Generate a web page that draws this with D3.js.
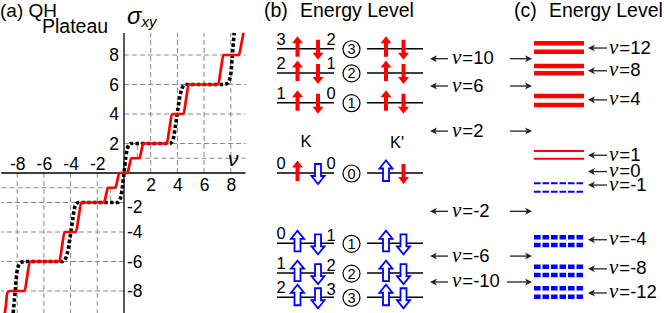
<!DOCTYPE html>
<html><head><meta charset="utf-8">
<script src="https://cdn.jsdelivr.net/npm/d3@7"></script>
<style>
body{margin:0;background:#fff}
svg{display:block}
text{font-family:"Liberation Sans",Arial,sans-serif;fill:#000}
</style>
</head><body>
<svg id="c" width="664" height="313"></svg>
<script>
// ---------------- Panel (a) data : QH plateau ----------------
const xTicksNeg = [-8, -6, -4, -2];
const xTicksPos = [2, 4, 6, 8];
const yTicksPos = [2, 4, 6, 8];
const yTicksNeg = [-2, -4, -6, -8];
const gridPos = [2, 4, 6, 8];
const gridNeg = [-2, -4, -6, -8];
// red curve (nu, sigma_xy)
const redCurve = [
  [-8.95,-9.6],[-8.85,-9.0],[-8.75,-8.15],[-8.6,-8],
  [-7.45,-8],[-7.25,-7],[-7.05,-6],
  [-4.85,-6],[-4.65,-5],[-4.45,-4],
  [-3.6,-4],[-3.4,-3],[-3.2,-2],
  [-1.5,-2],[-1.35,-1.5],[-1.2,-1],
  [-0.65,-1],[-0.5,-0.5],[-0.35,0],
  [0.25,0],[0.4,0.5],[0.55,1],
  [1.15,1],[1.3,1.5],[1.45,2],
  [3.2,2],[3.4,3],[3.6,4],
  [4.45,4],[4.65,5],[4.85,6],
  [7.05,6],[7.25,7],[7.45,8],
  [8.6,8],[8.78,8.7],[8.95,9.5]
];
// black dotted curve (nu, sigma_xy)
const blackCurve = [
  [-8.3,-9.5],[-8.15,-8],[-8.0,-6.6],[-7.75,-6.08],[-7.4,-6],
  [-4.6,-6],[-4.35,-5.75],[-4.15,-5],[-3.98,-4],[-3.82,-3],[-3.65,-2.2],[-3.4,-2],
  [-0.5,-2],[-0.3,-1.8],[-0.14,-1.1],[0,0],[0.14,1.1],[0.3,1.8],[0.5,2],
  [3.4,2],[3.65,2.2],[3.82,3],[3.98,4],[4.15,5],[4.35,5.75],[4.6,6],
  [7.4,6],[7.75,6.08],[7.98,6.6],[8.12,8],[8.25,9.5]
];

// ---------------- Panel (b) data : Landau levels ----------------
const levelIndex   = ["3","2","1","0","1","2","3"];
const levelEnergy  = [1.75, 1.41, 0.99, 0, -0.99, -1.41, -1.75];
const levelLeftNum = ["3","2","1","0","0","1","2"];
const levelRightNum= ["2","1","0","0","1","2","3"];
const kUp   = ["red","red","red","red","blue","blue","blue"];
const kDown = ["red","red","red","blue","blue","blue","blue"];
const kpUp  = ["red","red","red","blue","blue","blue","blue"];
const kpDown= ["red","red","red","red","blue","blue","blue"];
const gapNu     = ["10","6","2","-2","-6","-10"];
const gapEnergy = [1.61, 1.225, 0.59, -0.54, -1.17, -1.535];

// ---------------- Panel (c) data ----------------
const cNu          = ["12","8","4","1","0","-1","-4","-8","-12"];
const cLabelEnergy = [1.76, 1.44, 1.03, 0.25, 0.02, -0.17, -0.94, -1.35, -1.69];
const cBarNu       = [12, 12, 8, 8, 4, 4, 1, 1, -1, -1, -4, -4, -8, -8, -12, -12];
const cBarEnergy   = [1.826, 1.708, 1.507, 1.404, 1.085, 0.958, 0.31, 0.20,
                      -0.145, -0.263, -0.906, -1.014, -1.32, -1.437, -1.624, -1.742];

// ======================================================
const RED = "#ff0000", BLUE = "#0000ff";
const svg = d3.select("#c");
const SANS = '"Liberation Sans",Arial,sans-serif';
const SERIF = '"Liberation Serif","Times New Roman",serif';

// ---------- Panel (a) ----------
const xA = d3.scaleLinear().domain([0, 8]).range([124, 230.8]);
const yA = d3.scaleLinear().domain([0, 8]).range([173, 55]);
const gA = svg.append("g");

const grid = gA.append("g").attr("stroke", "#8a8a8a").attr("stroke-width", 1)
  .attr("stroke-dasharray", "5,3").attr("fill", "none");
gridPos.forEach(v => {
  grid.append("line").attr("x1", xA(v)).attr("x2", xA(v)).attr("y1", yA(0)).attr("y2", yA(9.5));
  grid.append("line").attr("x1", xA(0)).attr("x2", xA(9.1)).attr("y1", yA(v)).attr("y2", yA(v));
});
gridNeg.forEach(v => {
  grid.append("line").attr("x1", xA(v)).attr("x2", xA(v)).attr("y1", yA(0)).attr("y2", yA(-9.8));
  grid.append("line").attr("x1", xA(0)).attr("x2", xA(-9.2)).attr("y1", yA(v)).attr("y2", yA(v));
});
// short guides at +-1
grid.append("line").attr("x1", xA(1)).attr("x2", xA(9.1)).attr("y1", yA(1)).attr("y2", yA(1));
grid.append("line").attr("x1", xA(1)).attr("x2", xA(1)).attr("y1", yA(1)).attr("y2", yA(2));
grid.append("line").attr("x1", xA(-1)).attr("x2", xA(-9.2)).attr("y1", yA(-1)).attr("y2", yA(-1));
grid.append("line").attr("x1", xA(-1)).attr("x2", xA(-1)).attr("y1", yA(-1)).attr("y2", yA(-2));

// axis lines
gA.append("line").attr("x1", xA(-9.2)).attr("x2", xA(9.1)).attr("y1", yA(0)).attr("y2", yA(0))
  .attr("stroke", "#000").attr("stroke-width", 1.3);
gA.append("line").attr("x1", xA(0)).attr("x2", xA(0)).attr("y1", yA(9.5)).attr("y2", yA(-9.8))
  .attr("stroke", "#000").attr("stroke-width", 1.3);

function styleAxis(g) {
  g.select(".domain").remove();
  g.attr("font-size", 17.5).attr("font-family", SANS);
  g.selectAll("text").attr("fill", "#000");
}
gA.append("g").attr("transform", `translate(0,${yA(0)})`)
  .call(d3.axisTop(xA).tickValues(xTicksNeg).tickSize(0).tickPadding(3).tickFormat(d => String(d)))
  .call(styleAxis);
gA.append("g").attr("transform", `translate(0,${yA(0)})`)
  .call(d3.axisBottom(xA).tickValues(xTicksPos).tickSize(0).tickPadding(6).tickFormat(d => String(d)))
  .call(styleAxis);
gA.append("g").attr("transform", `translate(${xA(0)},0)`)
  .call(d3.axisLeft(yA).tickValues(yTicksPos).tickSize(0).tickPadding(5).tickFormat(d => String(d)))
  .call(styleAxis);
gA.append("g").attr("transform", `translate(${xA(0)},0)`)
  .call(d3.axisRight(yA).tickValues(yTicksNeg).tickSize(0).tickPadding(3).tickFormat(d => String(d)))
  .call(styleAxis)
  .call(g => g.selectAll(".tick").filter(d => d === -2).select("text").attr("y", 4));

const line = d3.line().x(d => xA(d[0])).y(d => yA(d[1])).curve(d3.curveMonotoneX);
gA.append("path").attr("d", line(blackCurve)).attr("fill", "none").attr("stroke", "#000")
  .attr("stroke-width", 3.6).attr("stroke-dasharray", "3.4,2.3");
gA.append("path").attr("d", line(redCurve)).attr("fill", "none").attr("stroke", RED)
  .attr("stroke-width", 2.7);

// labels panel a
svg.append("text").attr("x", 0).attr("y", 17).attr("font-size", 19).text("(a) QH");
svg.append("text").attr("x", 42).attr("y", 33).attr("font-size", 19.5).text("Plateau");
const sig = svg.append("text").attr("x", 127).attr("y", 24).attr("font-family", SERIF).attr("font-style", "italic");
sig.append("tspan").attr("font-size", 24).text("σ");
sig.append("tspan").attr("font-size", 15).attr("dy", 3).text("xy");
svg.append("text").attr("x", 228).attr("y", 166).attr("font-family", SERIF).attr("font-style", "italic")
  .attr("font-size", 21).text("ν");

// ---------- Panel (b) ----------
const eY = d3.scaleLinear().domain([0, 1]).range([173, 102]);
svg.append("text").attr("x", 264).attr("y", 17).attr("font-size", 19.5).text("(b)");
svg.append("text").attr("x", 300).attr("y", 17).attr("font-size", 19.5).text("Energy Level");
svg.append("text").attr("x", 514).attr("y", 17).attr("font-size", 19.5).text("(c)");
svg.append("text").attr("x", 549).attr("y", 17).attr("font-size", 19.5).text("Energy Level");

svg.append("text").attr("x", 306).attr("y", 147).attr("font-size", 16.5).attr("text-anchor", "middle").text("K");
svg.append("text").attr("x", 397).attr("y", 148).attr("font-size", 16.5).attr("text-anchor", "middle").text("K'");

function spinArrow(g, x, yTail, yTip, color) {
  const hollow = color === "blue";
  const s = hollow ? 3 : 2, h = hollow ? 6.5 : 5.5, hl = hollow ? 8 : 7;
  const dir = Math.sign(yTip - yTail);
  const yb = yTip - dir * hl;
  const p = d3.path();
  p.moveTo(x - s, yTail); p.lineTo(x - s, yb); p.lineTo(x - h, yb); p.lineTo(x, yTip);
  p.lineTo(x + h, yb); p.lineTo(x + s, yb); p.lineTo(x + s, yTail); p.closePath();
  g.append("path").attr("d", p.toString())
    .attr("fill", hollow ? "#fff" : RED)
    .attr("stroke", hollow ? BLUE : "none").attr("stroke-width", hollow ? 1.8 : 0)
    .attr("stroke-linejoin", "miter");
}

const gB = svg.append("g");
levelEnergy.forEach((e, i) => {
  const L = eY(e);
  gB.append("line").attr("x1", 277).attr("x2", 334).attr("y1", L).attr("y2", L).attr("stroke", "#000").attr("stroke-width", 1.5);
  gB.append("line").attr("x1", 367).attr("x2", 423).attr("y1", L).attr("y2", L).attr("stroke", "#000").attr("stroke-width", 1.5);
});
levelEnergy.forEach((e, i) => {
  const L = eY(e);
  spinArrow(gB, 297.5, L + 8, L - 12.5, kUp[i]);
  spinArrow(gB, 318, L - 9, L + 11, kDown[i]);
  spinArrow(gB, 386, L + 8, L - 12.5, kpUp[i]);
  spinArrow(gB, 403.5, L - 9, L + 11, kpDown[i]);
  gB.append("text").attr("x", 281).attr("y", L - 4).attr("font-size", 16.5).attr("text-anchor", "middle").text(levelLeftNum[i]);
  gB.append("text").attr("x", 331).attr("y", e < 0 ? L - 2 : L - 4).attr("font-size", 16.5).attr("text-anchor", "middle").text(levelRightNum[i]);
  gB.append("circle").attr("cx", 351.5).attr("cy", L + 0.5).attr("r", 8.5).attr("fill", "none").attr("stroke", "#000").attr("stroke-width", 1.2);
  gB.append("text").attr("x", 351.5).attr("y", L + 5.6).attr("font-size", 14.5).attr("text-anchor", "middle").text(levelIndex[i]);
});

function thinArrow(g, x1, x2, y) {
  const d = Math.sign(x2 - x1);
  g.append("line").attr("x1", x1).attr("x2", x2 - d * 4).attr("y1", y).attr("y2", y)
    .attr("stroke", "#222").attr("stroke-width", 1.3);
  g.append("path").attr("d", `M${x2},${y}L${x2 - d * 7},${y - 3.5}L${x2 - d * 5},${y}L${x2 - d * 7},${y + 3.5}Z`)
    .attr("fill", "#222");
}
function nuLabel(g, x, y, val) {
  const t = g.append("text").attr("x", x).attr("y", y);
  t.append("tspan").attr("font-family", SERIF).attr("font-style", "italic").attr("font-size", 21).text("ν");
  t.append("tspan").attr("font-size", 18.5).attr("dx", 1).text("=" + val);
}
gapEnergy.forEach((e, i) => {
  const y = eY(e);
  thinArrow(gB, 448, 430, y);
  nuLabel(gB, 452, y + 5.5, gapNu[i]);
  thinArrow(gB, gapNu[i] === "-10" ? 507 : 510, 532, y);
});

// ---------- Panel (c) ----------
const gC = svg.append("g");
cBarEnergy.forEach((e, i) => {
  const nu = cBarNu[i];
  const thick = Math.abs(nu) >= 4;
  gC.append("line").attr("x1", 534).attr("x2", 584).attr("y1", eY(e)).attr("y2", eY(e))
    .attr("stroke", nu > 0 ? RED : BLUE)
    .attr("stroke-width", thick ? 4.5 : 2)
    .attr("stroke-dasharray", nu < 0 ? "6.6,1.9" : null);
});
cLabelEnergy.forEach((e, i) => {
  const y = eY(e);
  thinArrow(gC, 607, 588, y);
  nuLabel(gC, 609, y + 5.5, cNu[i]);
});
</script>
</body></html>
